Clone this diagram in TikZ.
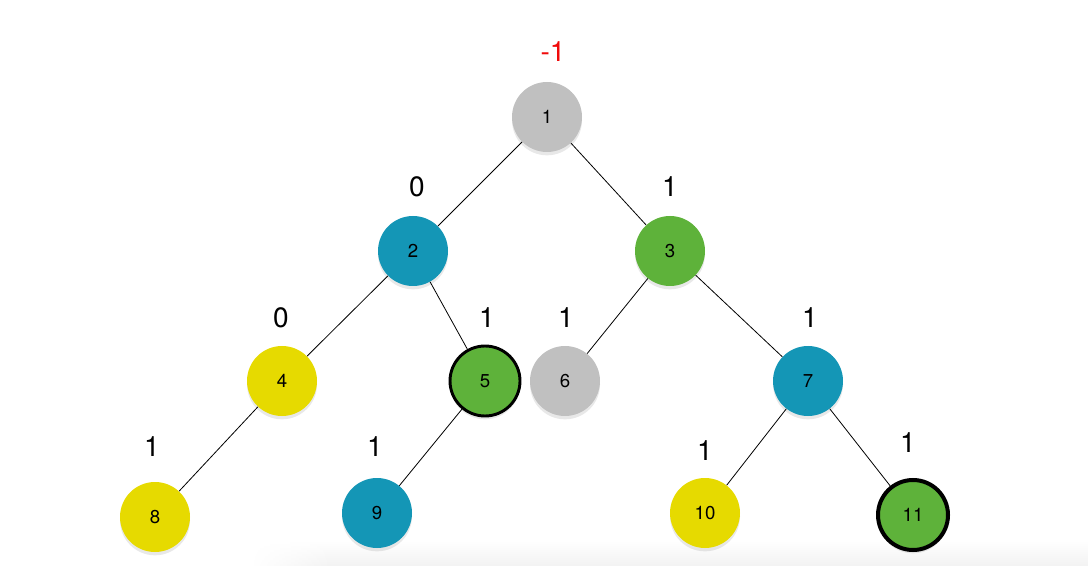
\documentclass[tikz,border=0pt]{standalone}
\usepackage{fontspec}
\setmainfont{TeX Gyre Heros}
\usepackage{tikz}
\usetikzlibrary{positioning,shadows,fadings}
\usepackage{xcolor}

\definecolor{nodegray}{RGB}{192,192,192}
\definecolor{nodeblue}{RGB}{20,150,182}
\definecolor{nodegreen}{RGB}{94,178,58}
\definecolor{nodeyellow}{RGB}{230,218,0}
\definecolor{lblred}{RGB}{240,10,10}

\tikzset{
  vert/.style={circle,minimum size=52.5pt,inner sep=0pt,font=\fontsize{14}{16}\selectfont,
    drop shadow={opacity=0.18,shadow xshift=0pt,shadow yshift=-2.5pt}},
  marked/.style={draw=black,line width=2.2pt},
  lbl/.style={font=\fontsize{21}{24}\selectfont,inner sep=0pt},
  edge/.style={black,line width=0.6pt}
}

\begin{document}
\begin{tikzpicture}[x=0.75pt,y=-0.75pt]
\useasboundingbox (0,0) rectangle (1088,566);
% page shadow at the bottom
\shade[top color=white,bottom color=black!5] (330,540) rectangle (1088,566);
\shade[top color=white,bottom color=black!5,path fading=west] (250,540) rectangle (330,566);

\node[vert,fill=nodegray] (n1) at (547,117) {1};
\node[vert,fill=nodeblue] (n2) at (413,251) {2};
\node[vert,fill=nodegreen] (n3) at (670,251) {3};
\node[vert,fill=nodeyellow] (n4) at (282,381) {4};
\node[vert,fill=nodegreen,marked] (n5) at (485,381) {5};
\node[vert,fill=nodegray] (n6) at (565,381) {6};
\node[vert,fill=nodeblue] (n7) at (808,381) {7};
\node[vert,fill=nodeyellow] (n8) at (155,517) {8};
\node[vert,fill=nodeblue] (n9) at (377,513) {9};
\node[vert,fill=nodeyellow] (n10) at (705,513) {10};
\node[vert,fill=nodegreen,marked,line width=3pt] (n11) at (913,515) {11};

\node[lbl,text=lblred] (l1) at (553,52) {-1};
\node[lbl] (l2) at (417,187) {0};
\node[lbl] (l3) at (670,187) {1};
\node[lbl] (l4) at (281,318) {0};
\node[lbl] (l5) at (487,318) {1};
\node[lbl] (l6) at (566,318) {1};
\node[lbl] (l7) at (810,318) {1};
\node[lbl] (l8) at (152,447) {1};
\node[lbl] (l9) at (375,447) {1};
\node[lbl] (l10) at (705,451) {1};
\node[lbl] (l11) at (908,443) {1};

\draw [edge] (n1)--(n2);
\draw [edge] (n1)--(n3);
\draw [edge] (n2)--(n4);
\draw [edge] (n2)--(n5);
\draw [edge] (n3)--(n6);
\draw [edge] (n3)--(n7);
\draw [edge] (n4)--(n8);
\draw [edge] (n5)--(n9);
\draw [edge] (n7)--(n10);
\draw [edge] (n7)--(n11);
\end{tikzpicture}
\end{document}
